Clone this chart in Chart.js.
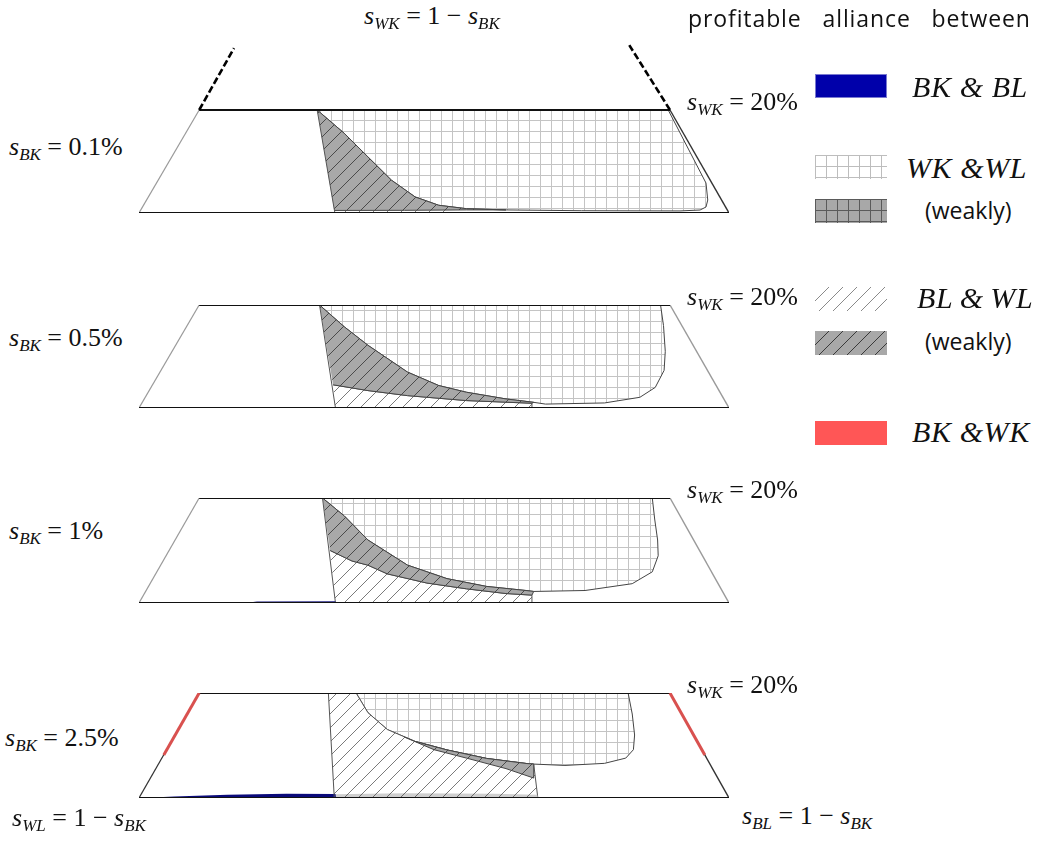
<!DOCTYPE html>
<html>
<head>
<meta charset="utf-8">
<script src="https://cdn.jsdelivr.net/npm/chart.js@4.4.1/dist/chart.umd.min.js"></script>
<style>
body{margin:0;background:#fff;}
#page{position:relative;width:1041px;height:849px;overflow:hidden;background:#fff;}
canvas{position:absolute;}
.lb{position:absolute;white-space:nowrap;font-family:"Liberation Serif","Times New Roman",serif;color:#111;}
.lb i{font-style:italic;}
.lb .sb{font-style:italic;position:relative;}
.sans{font-family:"Open Sans","Noto Sans",sans-serif;color:#111;}
</style>
</head>
<body>
<div id="page"></div>
<script>
// every shape is given in panel coordinates: x runs 0..1 along the base, y runs 0..1 from base to top edge
var baseLine = [[0, 0], [1, 0]];
var topLine = [[0.102, 1], [0.9, 1]];
var leftSide = [[0, 0], [0.102, 1]];
var rightSide = [[1, 0], [0.9, 1]];

// s_BK = 0.1%
var divider1 = [[0.302, 1], [0.332, 0]];
var curveA1 = [[0.302, 1], [0.348, 0.773], [0.388, 0.545], [0.428, 0.318], [0.468, 0.156], [0.508, 0.075], [0.555, 0.042], [0.622, 0.03]];
var gridEdge1 = [[0.622, 0.03], [0.75, 0.022], [0.917, 0.02], [0.951, 0.029], [0.961, 0.058], [0.964, 0.126], [0.961, 0.291], [0.932, 0.612], [0.897, 1]];
var curveC1 = [[0.331, 0.025], [0.45, 0.026], [0.555, 0.03], [0.622, 0.03]];
var lowHatch1 = [[0.332, 0], [0.331, 0.025], [0.45, 0.026], [0.53, 0.028], [0.53, 0]];
var dashLeft1 = [[0.102, 1], [0.161, 1.6]];
var dashRight1 = [[0.9, 1], [0.831, 1.63]];

// s_BK = 0.5%
var divider2 = [[0.306, 1], [0.333, 0]];
var curveA2 = [[0.306, 1], [0.348, 0.788], [0.388, 0.609], [0.455, 0.349], [0.508, 0.218], [0.555, 0.153], [0.622, 0.088], [0.669, 0.055]];
var gridEdge2 = [[0.669, 0.055], [0.689, 0.038], [0.789, 0.049], [0.849, 0.104], [0.875, 0.2], [0.89, 0.365], [0.892, 0.55], [0.889, 0.8], [0.884, 1]];
var curveC2 = [[0.329, 0.225], [0.388, 0.169], [0.455, 0.12], [0.555, 0.072], [0.666, 0.046]];

// s_BK = 1%
var divider3 = [[0.311, 1], [0.333, 0]];
var curveA3 = [[0.311, 1], [0.348, 0.829], [0.388, 0.6], [0.455, 0.361], [0.522, 0.232], [0.589, 0.158], [0.656, 0.119], [0.669, 0.11]];
var gridEdge3 = [[0.669, 0.11], [0.756, 0.119], [0.836, 0.184], [0.87, 0.297], [0.88, 0.45], [0.879, 0.6], [0.874, 0.8], [0.87, 1]];
var curveC3 = [[0.324, 0.5], [0.361, 0.4], [0.388, 0.36], [0.421, 0.277], [0.488, 0.19], [0.555, 0.135], [0.622, 0.09], [0.666, 0.075]];
var blue3 = [[0.18, 0], [0.2, 0.014], [0.333, 0.016], [0.333, 0]];

// s_BK = 2.5%
var divider4 = [[0.321, 1], [0.331, 0]];
var curveA4 = [[0.368, 1], [0.388, 0.813], [0.421, 0.652], [0.468, 0.539], [0.522, 0.458], [0.589, 0.377], [0.656, 0.329], [0.669, 0.323]];
var gridEdge4 = [[0.669, 0.323], [0.722, 0.31], [0.789, 0.33], [0.825, 0.38], [0.838, 0.46], [0.84, 0.6], [0.836, 0.8], [0.829, 1]];
var curveC4 = [[0.45, 0.58], [0.5, 0.46], [0.555, 0.38], [0.622, 0.28], [0.669, 0.19]];
var hatchEnd4 = [[0.676, 0], [0.331, 0]];
var lowGrey4 = [[0.331, 0], [0.332, 0.035], [0.45, 0.045], [0.6, 0.04], [0.675, 0.03], [0.676, 0]];
var blue4 = [[0.005, 0], [0.06, 0.015], [0.15, 0.03], [0.25, 0.04], [0.333, 0.038], [0.334, 0]];
var redLeft4 = [[0.102, 1], [0.042, 0.41]];
var redRight4 = [[0.9, 1], [0.959, 0.41]];

var bkValues = ['0.1%', '0.5%', '1%', '2.5%'];

// layout
var PAD = 6, LEFT = 139, WIDTH = 590;
var panelTop = [110, 305, 498, 693];
var panelBottom = [213, 408, 603, 798];

var page = document.getElementById('page');

function pts(a) { return a.map(function (p) { return {x: p[0], y: p[1]}; }); }
function rev(a) { return a.slice().reverse(); }
function area(a, bg, border) {
    return {data: pts(a), fill: 'shape', backgroundColor: bg,
        borderColor: border || 'rgba(0,0,0,0)', borderWidth: border ? 1 : 0};
}
function edge(a, color, width, dash) {
    return {data: pts(a), fill: false, borderColor: color, borderWidth: width, borderDash: dash || []};
}

function gridPattern(ctx, bg, line) {
    var c = document.createElement('canvas');
    c.width = 11; c.height = 11;
    var g = c.getContext('2d');
    g.fillStyle = bg; g.fillRect(0, 0, 11, 11);
    g.strokeStyle = line; g.lineWidth = 1;
    g.beginPath();
    g.moveTo(0.5, 0); g.lineTo(0.5, 11);
    g.moveTo(0, 0.5); g.lineTo(11, 0.5);
    g.stroke();
    return ctx.createPattern(c, 'repeat');
}
function hatchPattern(ctx, bg, line) {
    var s = 14;
    var c = document.createElement('canvas');
    c.width = s; c.height = s;
    var g = c.getContext('2d');
    g.fillStyle = bg; g.fillRect(0, 0, s, s);
    g.strokeStyle = line; g.lineWidth = 1;
    g.beginPath();
    g.moveTo(0, s); g.lineTo(s, 0);
    g.moveTo(-2, 2); g.lineTo(2, -2);
    g.moveTo(s - 2, s + 2); g.lineTo(s + 2, s - 2);
    g.stroke();
    return ctx.createPattern(c, 'repeat');
}

function panelSets(i, ctx) {
    var grid = gridPattern(ctx, '#ffffff', '#c4c4c4');
    var hatch = hatchPattern(ctx, '#ffffff', '#7a7a7a');
    var greyHatch = hatchPattern(ctx, '#a8a8a8', '#4a4a4a');
    var lightGrey = hatchPattern(ctx, '#cfcfcf', '#6a6a6a');
    var sets = [];
    var sideL = '#9a9a9a', sideR = '#9a9a9a';
    if (i === 0) {
        sets.push(area(curveA1.concat(gridEdge1.slice(1)), grid, '#444'));
        sets.push(area(lowHatch1, hatch));
        sets.push(area(curveC1.concat(rev(curveA1)), greyHatch, '#444'));
        sets.push(edge(divider1, '#555', 1));
        sideR = '#333';
    } else if (i === 1) {
        sets.push(area(curveA2.concat(gridEdge2.slice(1)), grid, '#444'));
        sets.push(area([[0.333, 0], [0.666, 0]].concat(rev(curveC2)), hatch, '#555'));
        sets.push(area(curveC2.concat(rev(curveA2)), greyHatch, '#444'));
        sets.push(edge(divider2, '#555', 1));
    } else if (i === 2) {
        sets.push(area(curveA3.concat(gridEdge3.slice(1)), grid, '#444'));
        sets.push(area([[0.333, 0], [0.666, 0]].concat(rev(curveC3)), hatch, '#555'));
        sets.push(area(curveC3.concat(rev(curveA3)), greyHatch, '#444'));
        sets.push(edge(divider3, '#555', 1));
        sets.push(area(blue3, '#1a1a80'));
    } else {
        sets.push(area(curveA4.concat(gridEdge4.slice(1)), grid, '#444'));
        sets.push(area([divider4[0]].concat(curveA4, hatchEnd4), hatch, '#555'));
        var upper = curveA4.filter(function (p) { return p[0] >= 0.45; });
        sets.push(area(curveC4.concat(rev(upper)), greyHatch, '#444'));
        sets.push(area(lowGrey4, lightGrey));
        sets.push(area(blue4, '#0a0a7a'));
        sets.push(edge(divider4, '#555', 1));
        sideL = '#333'; sideR = '#333';
    }
    sets.push(edge(leftSide, sideL, 1.2));
    sets.push(edge(rightSide, sideR, 1.4));
    sets.push(edge(baseLine, '#111', 2.2));
    sets.push(edge(topLine, '#111', 2.2));
    if (i === 0) {
        sets.push(edge(dashLeft1, '#000', 2.6, [7, 3]));
        sets.push(edge(dashRight1, '#000', 2.6, [7, 3]));
    }
    if (i === 3) {
        sets.push(edge(redLeft4, '#d9514f', 3));
        sets.push(edge(redRight4, '#d9514f', 3));
    }
    // first pushed is painted first
    sets.forEach(function (d, k) { d.order = -k; });
    return sets;
}

for (var i = 0; i < 4; i++) {
    var h = panelBottom[i] - panelTop[i];
    var extra = i === 0 ? Math.round(0.7 * h) : 0;
    var cv = document.createElement('canvas');
    cv.width = WIDTH + 2 * PAD;
    cv.height = h + extra + 2 * PAD;
    cv.style.left = (LEFT - PAD) + 'px';
    cv.style.top = (panelTop[i] - extra - PAD) + 'px';
    page.appendChild(cv);
    var ctx = cv.getContext('2d');
    new Chart(ctx, {
        type: 'line',
        data: {datasets: panelSets(i, ctx)},
        options: {
            responsive: false,
            animation: false,
            devicePixelRatio: 1,
            events: [],
            layout: {padding: PAD},
            plugins: {legend: {display: false}, tooltip: {enabled: false}},
            elements: {point: {radius: 0, hoverRadius: 0}, line: {tension: 0, borderJoinStyle: 'round', borderCapStyle: 'butt'}},
            scales: {
                x: {type: 'linear', min: 0, max: 1, display: false},
                y: {type: 'linear', min: 0, max: (h + extra) / h, display: false}
            }
        }
    });
}

// text
function label(x, base, html, size, sans) {
    var d = document.createElement('div');
    d.className = 'lb' + (sans ? ' sans' : '');
    d.style.fontSize = size + 'px';
    d.style.lineHeight = size + 'px';
    d.style.left = x + 'px';
    d.style.top = (base - (sans ? 0.888 : 0.8375) * size) + 'px';
    d.innerHTML = html;
    page.appendChild(d);
    return d;
}
function s(sub) {
    return '<i>s</i><span class="sb" style="font-size:17px;top:5px">' + sub + '</span>';
}

label(364, 25, s('WK') + ' = 1 &minus; ' + s('BK'), 26);
var head = label(688, 27, 'profitable alliance between', 23, true);
head.style.letterSpacing = '0.9px';
head.style.wordSpacing = '14px';
for (var k = 0; k < 4; k++) {
    label(687, panelTop[k] + 1, s('WK') + ' = 20%', 26);
}
var bkBase = [156, 347, 540, 747];
var bkLeft = [9, 9, 9, 5];
for (var k = 0; k < 4; k++) {
    label(bkLeft[k], bkBase[k], s('BK') + ' = ' + bkValues[k], 26);
}
label(12, 827, s('WL') + ' = 1 &minus; ' + s('BK'), 26);
label(742, 825, s('BL') + ' = 1 &minus; ' + s('BK'), 26);

// legend
var legendNames = ['BK &amp; BL', 'WK &amp;WL', '(weakly)', 'BL&thinsp;&amp;&thinsp;WL', '(weakly)', 'BK &amp;WK'];
var legendY = [74, 155, 199, 287, 331, 421];
var legendTextX = [912, 906, 925, 917, 925, 912];
var legendBase = [97, 178, 219, 308, 350, 442];
for (var j = 0; j < 6; j++) {
    var sw = document.createElement('canvas');
    sw.width = 72; sw.height = 24;
    sw.style.left = '815px';
    sw.style.top = legendY[j] + 'px';
    page.appendChild(sw);
    var g = sw.getContext('2d');
    var fills = [
        '#0000aa',
        gridPattern(g, '#ffffff', '#bdbdbd'),
        gridPattern(g, '#a8a8a8', '#5a5a5a'),
        hatchPattern(g, '#ffffff', '#8a8a8a'),
        hatchPattern(g, '#a8a8a8', '#3a3a3a'),
        '#ff5656'
    ];
    g.fillStyle = fills[j];
    g.fillRect(0, 0, 72, 24);
    if (j === 0) { g.strokeStyle = '#7a7ad0'; g.strokeRect(0.5, 0.5, 71, 23); }
    var weak = j === 2 || j === 4;
    var t = label(legendTextX[j], legendBase[j], weak ? legendNames[j] : '<i>' + legendNames[j] + '</i>', weak ? 23 : 30, weak);
    if (!weak) t.style.letterSpacing = '0.6px';
}
</script>
</body>
</html>
